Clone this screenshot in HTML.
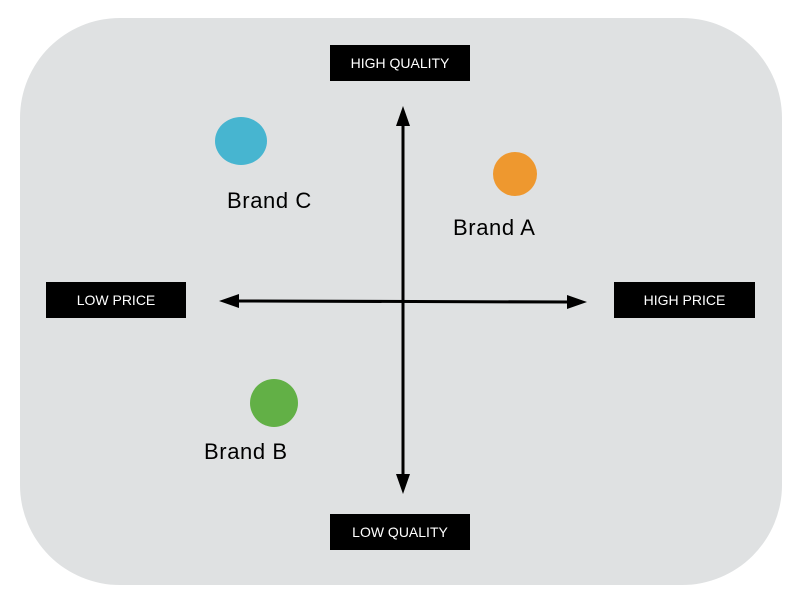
<!DOCTYPE html>
<html><head><style>
body{margin:0;width:800px;height:599px;background:#fff;position:relative;overflow:hidden;font-family:"Liberation Sans",sans-serif}
.panel{position:absolute;left:20px;top:18px;width:762px;height:567px;background:#dfe1e2;border-radius:100px}
.lab{position:absolute;background:#000;color:#fff;font-size:14px;width:140px;height:36px;line-height:37px;text-align:center}
.t{position:absolute;font-size:22px;letter-spacing:0.6px;color:#000}
</style></head><body>
<div class="panel"></div>
<div class="lab" style="left:330px;top:45px">HIGH QUALITY</div>
<div class="lab" style="left:330px;top:514px">LOW QUALITY</div>
<div class="lab" style="left:46px;top:282px">LOW PRICE</div>
<div class="lab" style="left:614px;top:282px;width:141px">HIGH PRICE</div>
<svg width="800" height="599" style="position:absolute;left:0;top:0">
<line x1="403" y1="122" x2="403" y2="478" stroke="#000" stroke-width="3"/>
<polygon points="403,106 396,126 410,126" fill="#000"/>
<polygon points="403,494 396,474 410,474" fill="#000"/>
<line x1="235" y1="301" x2="571" y2="302" stroke="#000" stroke-width="3"/>
<polygon points="219,301 239,294 239,308" fill="#000"/>
<polygon points="587,302 567,295 567,309" fill="#000"/>
<ellipse cx="241" cy="141" rx="26" ry="24" fill="#47b5d0"/>
<circle cx="515" cy="174" r="22" fill="#ee982f"/>
<circle cx="274" cy="403" r="24" fill="#62b046"/>
</svg>
<div class="t" style="left:227px;top:188px">Brand C</div>
<div class="t" style="left:453px;top:215px">Brand A</div>
<div class="t" style="left:204px;top:439px">Brand B</div>
</body></html>
